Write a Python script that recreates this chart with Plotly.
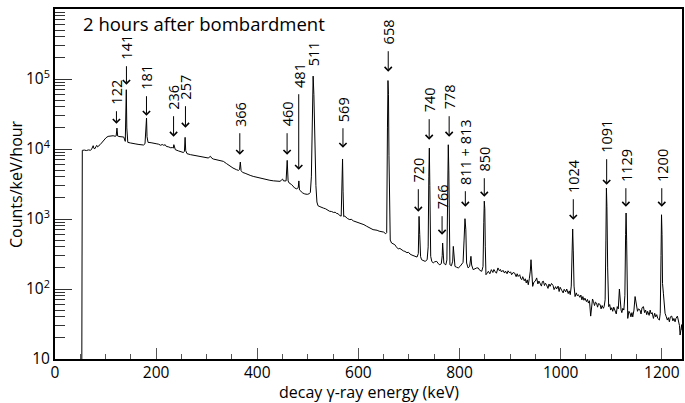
import math
import plotly.graph_objects as go

# ---------------- data ----------------
# (energy keV, counts/keV/hour)
spectrum_low = [
    (53, 8), (54, 9560), (58, 9650), (62, 9500), (66, 9700), (70, 9600), (72, 9800),
    (74, 10600), (75.5, 11150), (77, 10200), (79, 10100), (81, 10800), (82.5, 11270),
    (84, 10700), (86, 10900), (89, 11500), (92, 12170), (95, 12900), (98, 13870),
    (101, 14500), (105, 15140), (110, 15300), (115, 15480), (119, 15200), (121, 15400),
    (122.5, 19900), (124, 15300), (126, 15100), (131, 15000), (136, 14820), (139, 12850),
    (140.2, 30000), (141, 70300), (142, 20000), (144, 12430), (149, 12200), (154, 11900),
    (160, 11800), (166, 11600), (171, 11500), (175, 11400), (178, 11900), (180, 18000),
    (181, 27700), (182, 15000), (184, 12430), (190, 12300), (195, 12200), (200, 11900),
    (205, 11700), (209, 11300), (212, 11600), (215, 11300), (218, 11500), (220, 10900),
    (225, 10700), (229, 10400), (232, 10500), (234, 10300), (235, 11530), (236.5, 10000),
    (238, 9780), (244, 9400), (250, 9060), (254, 8900), (256, 9300), (257.3, 14660),
    (258.5, 9500), (261, 8580), (268, 8300), (275, 8100), (281, 8000), (286, 7860),
    (292, 7700), (297, 7600), (303, 7440), (307.5, 7860), (310, 7400), (313, 7190),
    (320, 7000), (327, 6850), (333, 6660), (339, 6200), (346, 5650), (352, 5350),
    (359, 5060), (363, 4950), (365, 5100), (366.5, 6510), (368, 4900), (371, 4630),
    (376, 4500), (380, 4350), (386, 4200), (392, 4060), (398, 3950), (404, 3850),
    (410, 3760), (418, 3640), (425, 3570), (432, 3510), (438, 3470), (445, 3450),
    (448, 3600), (450, 3720), (452, 3500), (455, 3450), (457, 3500), (459.2, 6880),
    (461, 3500), (463, 3270), (468, 3100), (474, 2770), (478, 2700), (481, 2800),
    (482.3, 3500), (483.5, 2600), (486, 2480), (490, 2350), (494, 2280), (499, 2250),
    (503, 2300), (505, 2400),
    (507, 4000), (508.5, 30000), (510.5, 110000), (512, 60000), (514, 12000),
    (516, 3000), (518, 1750),
]

spectrum_mid = [
    (520, 1550), (524, 1500), (528, 1480), (531, 1430), (535, 1400), (539, 1330),
    (543, 1290), (547, 1280), (551, 1240), (554, 1250), (557, 1200), (560, 1190),
    (563, 1120), (566, 1100), (567.8, 2500), (568.7, 7200), (569.7, 2500), (571, 1080),
    (573, 1100), (576, 1040), (579, 1010), (583, 980), (586, 990), (590, 940),
    (594, 920), (598, 900), (603, 880), (607, 850), (611, 830), (616, 790), (620, 770),
    (625, 730), (629, 705), (633, 700), (637, 690), (641, 670), (646, 665), (650, 650),
    (654, 615), (656, 640), (657.5, 20000), (658.5, 95000), (659.5, 60000),
    (660.5, 8000), (661.5, 1200), (663, 500), (665.6, 454), (669, 440), (672, 430),
    (675, 400), (679, 373), (682, 380), (685, 364), (689, 350), (692, 345), (696, 330),
    (699, 335), (702, 316), (706, 305), (709, 300), (712, 293), (716, 286),
    (718.5, 320), (720, 1090), (721.3, 600), (723, 290), (725, 262), (728, 255),
    (732, 248), (736, 262), (738, 400), (739.3, 4000), (740.3, 10300), (741.3, 3000),
    (743, 293), (745, 250), (748, 235), (751, 245), (755, 248), (758, 230), (761, 222),
    (764, 230), (765.8, 300), (766.6, 454), (767.6, 300), (769, 235), (771, 225),
    (773, 222), (775, 260), (776.5, 3000), (777.8, 11500), (778.8, 5000), (780, 400),
    (781, 222), (784, 215), (786.5, 250), (787.7, 406), (789, 260), (791, 210),
    (794, 205), (797.6, 200), (801, 210), (804, 222), (807, 240), (809, 500),
    (810.8, 1010), (812.5, 700), (814, 235), (817, 200), (820, 210), (822.6, 293),
    (824, 220), (827, 189), (830, 195), (834, 200), (837, 200), (840, 185), (844, 179),
    (846.5, 210), (848, 900), (849, 1800), (850, 1400), (851, 400), (852.3, 160),
    (855, 170), (857, 179),
]

spectrum_high = [
    (860, 165), (863, 189), (866, 172), (868, 190), (870, 179), (873, 168), (876, 200),
    (879, 182), (881, 190), (883, 175), (886, 185), (889, 169), (891, 180), (894, 165),
    (896, 182), (899, 170), (901, 176), (903, 160), (906, 172), (909, 169), (912, 150),
    (914, 165), (916, 151), (919, 160), (921, 142), (923, 136), (925, 150), (928, 131),
    (930, 140), (932, 122), (934, 135), (936, 115), (938, 140), (940, 180),
    (941.4, 262), (942.8, 160), (944.7, 109), (947, 125), (950, 130), (952.6, 144),
    (955, 118), (957, 130), (959, 122), (962, 110), (964, 128), (966, 129), (968, 112),
    (970, 121), (972, 115), (975, 102), (977, 118), (979, 109), (982, 120), (985, 112),
    (987, 98), (990, 108), (992, 100), (995, 110), (997, 92), (999, 106), (1002, 96),
    (1005, 88), (1007, 99), (1010, 91), (1012, 100), (1015, 86), (1017, 94),
    (1019, 83), (1021, 110), (1022.5, 300), (1023.8, 720), (1025, 350), (1026.5, 110),
    (1028.5, 78), (1031, 88), (1033, 80), (1035, 83), (1038, 76), (1040, 82),
    (1042, 70), (1044, 78), (1046, 69), (1048, 74), (1051, 66), (1053, 71), (1055, 63),
    (1057, 68), (1059.4, 41), (1061, 62), (1063, 72), (1065, 66), (1067, 58),
    (1069, 65), (1071, 63), (1073, 55), (1075, 62), (1078, 60), (1080, 52), (1082, 58),
    (1084.5, 53), (1086, 56), (1088, 70), (1089.5, 500), (1090.5, 2770),
    (1091.5, 1500), (1093, 200), (1095, 56), (1097, 60), (1099, 50), (1101, 54),
    (1103, 48), (1105, 55), (1107.6, 50), (1110, 44), (1112, 56), (1114, 52),
    (1116.2, 100), (1118, 60), (1119.5, 50), (1121, 46), (1123, 53), (1125, 50),
    (1127, 80), (1128.5, 600), (1129.4, 1218), (1130.5, 500), (1131.5, 90),
    (1132.7, 38), (1135, 48), (1137.3, 45), (1139, 40), (1141, 46), (1142.6, 40),
    (1145, 50), (1147.2, 78), (1149, 60), (1150.5, 56), (1152, 48), (1154, 52),
    (1157, 50), (1159, 44), (1161, 54), (1163.7, 56), (1166, 46), (1168, 50),
    (1170.3, 43), (1172, 48), (1175, 42), (1177, 50), (1179, 44), (1181, 46),
    (1183.5, 38), (1186, 45), (1188, 40), (1190, 43), (1192, 38), (1195.3, 36),
    (1197, 45), (1198.5, 300), (1199.5, 1150), (1200.5, 600), (1201.5, 120),
    (1203.2, 87), (1205, 50), (1206.5, 45), (1209, 40), (1211, 36), (1213, 39),
    (1215, 34), (1217, 40), (1219.7, 41), (1222, 35), (1224, 38), (1226.3, 34),
    (1228, 38), (1230.9, 41), (1233, 33), (1235, 30), (1236.2, 22), (1238, 30),
    (1239.5, 31), (1240, 26),
]

# peak labels: text, energy (keV), counts at arrow tip, arrow length (px; 0 = no arrow)
peak_labels = [
    ("122", 121.5, 22980, 14), ("141", 141.3, 82900, 20), ("181", 180.9, 29900, 21),
    ("236", 234.5, 14990, 22), ("257", 258.0, 20160, 23), ("366", 365.5, 8290, 23),
    ("460", 459.0, 8290, 23), ("481", 482.0, 5060, 77), ("511", 510.5, 145000, 0),
    ("569", 569.5, 10430, 21), ("658", 659.0, 127200, 22), ("720", 718.5, 1272, 24),
    ("740", 740.0, 13590, 22), ("766", 765.5, 597, 20), ("778", 779.5, 14990, 22),
    ("811 + 813", 811.5, 1499, 17), ("850", 849.0, 2083, 20), ("1024", 1025.0, 977, 22),
    ("1091", 1091.0, 3090, 27), ("1129", 1129.0, 1499, 20), ("1200", 1200.0, 1499, 20),
]

x_tick_vals = [0, 200, 400, 600, 800, 1000, 1200]
y_tick_vals = [10, 100, 1000, 10000, 100000, 1000000]
y_tick_text = ["10", "10<sup>2</sup>", "10<sup>3</sup>", "10<sup>4</sup>",
               "10<sup>5</sup>", "10<sup>6</sup>"]
title_text = "2 hours after bombardment"
x_title = "decay γ-ray energy (keV)"
y_title = "Counts/keV/hour"

# ---------------- figure ----------------
points = spectrum_low + spectrum_mid + spectrum_high
energy = [p[0] for p in points]
counts = [p[1] for p in points]

FONT = "Open Sans, Noto Sans, DejaVu Sans, sans-serif"

fig = go.Figure()
fig.add_trace(go.Scatter(x=energy, y=counts, mode="lines",
                         line=dict(color="black", width=1), hoverinfo="skip",
                         showlegend=False))

annotations = []
for text, e, tip, alen in peak_labels:
    ly = math.log10(tip)
    if alen > 0:
        annotations.append(dict(x=e, y=ly, xref="x", yref="y", text="",
                                showarrow=True, arrowhead=4, arrowsize=1.4,
                                arrowwidth=1, arrowcolor="black",
                                ax=0, ay=-alen, axref="pixel", ayref="pixel"))
        shift = alen + 4
    else:
        shift = 0
    annotations.append(dict(x=e, y=ly, xref="x", yref="y", text=text,
                            showarrow=False, textangle=-90, xanchor="center",
                            yanchor="bottom", yshift=shift, borderpad=0,
                            font=dict(family=FONT, size=14.5, color="black")))

annotations.append(dict(x=(81 - 55) / 627, y=(359 - 24) / 350, xref="paper",
                        yref="paper", text=title_text, showarrow=False,
                        xanchor="left", yanchor="middle",
                        font=dict(family=FONT, size=18.5, color="black")))
annotations.append(dict(x=0.5, y=(359 - 392) / 350, xref="paper", yref="paper",
                        text=x_title, showarrow=False, xanchor="center",
                        yanchor="middle",
                        font=dict(family=FONT, size=16, color="black")))
annotations.append(dict(x=(16 - 55) / 627, y=0.5, xref="paper", yref="paper",
                        text=y_title, showarrow=False, textangle=-90,
                        xanchor="center", yanchor="middle",
                        font=dict(family=FONT, size=16, color="black")))

minor_y = [m * 10 ** k for k in range(1, 6) for m in range(2, 10)]

fig.update_layout(
    width=685, height=403,
    margin=dict(l=55, r=3, t=9, b=44),
    paper_bgcolor="white", plot_bgcolor="white",
    font=dict(family=FONT, size=15, color="black"),
    annotations=annotations,
    xaxis=dict(range=[0, 1240], tickmode="array", tickvals=x_tick_vals,
               ticks="inside", ticklen=11, tickwidth=1, tickcolor="#555",
               showline=True, linewidth=2, linecolor="black", mirror=True,
               showgrid=False, zeroline=False, automargin=False,
               ticklabelstandoff=-2,
               minor=dict(dtick=50, ticks="inside", ticklen=5, tickwidth=1,
                          tickcolor="#555", showgrid=False),
               tickfont=dict(family=FONT, size=15.5, color="black")),
    yaxis=dict(type="log", range=[1, 6], tickmode="array", tickvals=y_tick_vals,
               ticktext=y_tick_text, ticks="inside", ticklen=17, tickwidth=1,
               tickcolor="#333", showline=True, linewidth=2, linecolor="black",
               mirror=True, showgrid=False, zeroline=False, automargin=False,
               minor=dict(tickmode="array", tickvals=minor_y, ticks="inside",
                          ticklen=10, tickwidth=1, tickcolor="#333",
                          showgrid=False),
               tickfont=dict(family=FONT, size=15.5, color="black")),
)

fig.write_html("out.html",
               config={"displayModeBar": False, "staticPlot": True},
               post_script="document.body.style.margin='0';"
                           "document.body.style.padding='0';")
